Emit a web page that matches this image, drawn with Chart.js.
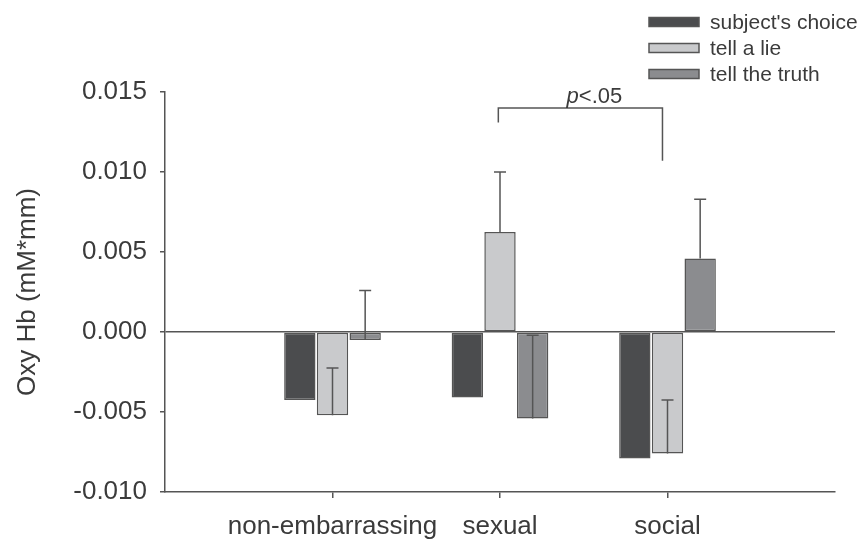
<!DOCTYPE html>
<html>
<head>
<meta charset="utf-8">
<script src="https://cdn.jsdelivr.net/npm/chart.js@4"></script>
<style>
  html, body { margin: 0; padding: 0; background: #fff; }
</style>
</head>
<body>
<canvas id="chart" width="862" height="543"></canvas>
<script>
const categories = ["non-embarrassing", "sexual", "social"];
const seriesNames = ["subject's choice", "tell a lie", "tell the truth"];
const choiceValues = [-0.00425, -0.0041, -0.0079];
const lieValues = [-0.0052, 0.00625, -0.0076];
const truthValues = [-0.0005, -0.0054, 0.0046];
const choiceErrors = [0, 0, 0];
const lieErrors = [0.00295, 0.00375, 0.00335];
const truthErrors = [0.0031, 0.0052, 0.0037];
const yTicks = [-0.010, -0.005, 0.000, 0.005, 0.010, 0.015];
const sigLabel = "p<.05";

const FONT = "'Liberation Sans', Arial, sans-serif";
const INK = "#3b3b3b";
const LINE = "#555555";

// empty slots at both ends so the categories sit at 1..3 of a 0..4 axis
const pad = (arr) => [null, ...arr, null];

const errorBars = {
  id: "errorBars",
  afterDatasetsDraw(chart) {
    const { ctx } = chart;
    const y = chart.scales.y;
    chart.data.datasets.forEach((ds, i) => {
      const meta = chart.getDatasetMeta(i);
      meta.data.forEach((bar, j) => {
        const v = ds.data[j];
        const e = ds.errors[j];
        if (v == null || !e) return;
        const y0 = y.getPixelForValue(v);
        const y1 = y.getPixelForValue(v + e);
        ctx.save();
        ctx.strokeStyle = LINE;
        ctx.lineWidth = 1.5;
        ctx.beginPath();
        ctx.moveTo(bar.x, y0);
        ctx.lineTo(bar.x, y1);
        ctx.moveTo(bar.x - 6, y1);
        ctx.lineTo(bar.x + 6, y1);
        ctx.stroke();
        ctx.restore();
      });
    });
  },
};

const sideLegend = {
  id: "sideLegend",
  afterDraw(chart) {
    const { ctx } = chart;
    ctx.save();
    ctx.font = "21px " + FONT;
    ctx.textBaseline = "middle";
    chart.data.datasets.forEach((ds, i) => {
      const cy = 22 + i * 26;
      ctx.fillStyle = ds.backgroundColor;
      ctx.fillRect(649, cy - 4.5, 50, 9);
      ctx.strokeStyle = LINE;
      ctx.lineWidth = 1.5;
      ctx.strokeRect(649, cy - 4.5, 50, 9);
      ctx.fillStyle = INK;
      ctx.fillText(ds.label, 710, cy + 1);
    });
    ctx.restore();
  },
};

const sigBracket = {
  id: "sigBracket",
  afterDraw(chart) {
    const { ctx } = chart;
    const x = chart.scales.x;
    const y = chart.scales.y;
    const xl = x.getPixelForValue(1.99);
    const xr = x.getPixelForValue(2.97);
    const yt = y.getPixelForValue(0.0140);
    ctx.save();
    ctx.strokeStyle = LINE;
    ctx.lineWidth = 1.5;
    ctx.beginPath();
    ctx.moveTo(xl, y.getPixelForValue(0.0131));
    ctx.lineTo(xl, yt);
    ctx.lineTo(xr, yt);
    ctx.lineTo(xr, y.getPixelForValue(0.0107));
    ctx.stroke();
    ctx.fillStyle = INK;
    ctx.textBaseline = "alphabetic";
    ctx.font = "italic 22px " + FONT;
    const pW = ctx.measureText(sigLabel[0]).width;
    ctx.font = "22px " + FONT;
    const rest = sigLabel.slice(1);
    const restW = ctx.measureText(rest).width;
    const tx = (xl + xr) / 2 + 14 - (pW + restW) / 2;
    ctx.font = "italic 22px " + FONT;
    ctx.fillText(sigLabel[0], tx, yt - 5);
    ctx.font = "22px " + FONT;
    ctx.fillText(rest, tx + pW, yt - 5);
    ctx.restore();
  },
};

const barStyle = {
  borderColor: LINE,
  borderWidth: 1.5,
  borderSkipped: false,
  categoryPercentage: 0.585,
  barPercentage: 0.96,
};

new Chart(document.getElementById("chart"), {
  type: "bar",
  data: {
    labels: pad(categories),
    datasets: [
      { label: seriesNames[0], data: pad(choiceValues), errors: pad(choiceErrors), backgroundColor: "#4b4c4e", ...barStyle },
      { label: seriesNames[1], data: pad(lieValues), errors: pad(lieErrors), backgroundColor: "#c9cacc", ...barStyle },
      { label: seriesNames[2], data: pad(truthValues), errors: pad(truthErrors), backgroundColor: "#8b8c8f", ...barStyle },
    ],
  },
  options: {
    responsive: false,
    animation: false,
    devicePixelRatio: 1,
    layout: { padding: { top: 92, right: 27, bottom: 0, left: 0 } },
    plugins: { legend: { display: false }, tooltip: { enabled: false } },
    scales: {
      x: {
        offset: false,
        grid: {
          offset: false,
          drawOnChartArea: false,
          tickLength: 6,
          lineWidth: 1.5,
          tickColor: (c) => (c.tick && categories.includes(c.tick.label) ? LINE : "rgba(0,0,0,0)"),
        },
        border: { color: LINE, width: 1.5 },
        ticks: { padding: 13, autoSkip: false, maxRotation: 0, color: INK, font: { family: FONT, size: 26 } },
        afterFit: (s) => { s.height = 51; },
      },
      y: {
        min: yTicks[0],
        max: yTicks[yTicks.length - 1],
        afterBuildTicks: (s) => { s.ticks = yTicks.map((v) => ({ value: v })); },
        grid: {
          tickLength: 5,
          lineWidth: 1.5,
          color: (c) => (c.tick && Math.abs(c.tick.value) < 1e-9 ? LINE : "rgba(0,0,0,0)"),
          tickColor: LINE,
        },
        border: { color: LINE, width: 1.5 },
        ticks: {
          padding: 13,
          color: INK,
          font: { family: FONT, size: 26 },
          callback: (v) => Number(v).toFixed(3),
        },
        title: {
          display: true,
          text: "Oxy Hb (mM*mm)",
          color: INK,
          font: { family: FONT, size: 26 },
          padding: { top: 12, bottom: 0 },
        },
        afterFit: (s) => { s.width = 165; },
      },
    },
  },
  plugins: [errorBars, sideLegend, sigBracket],
});
</script>
</body>
</html>
